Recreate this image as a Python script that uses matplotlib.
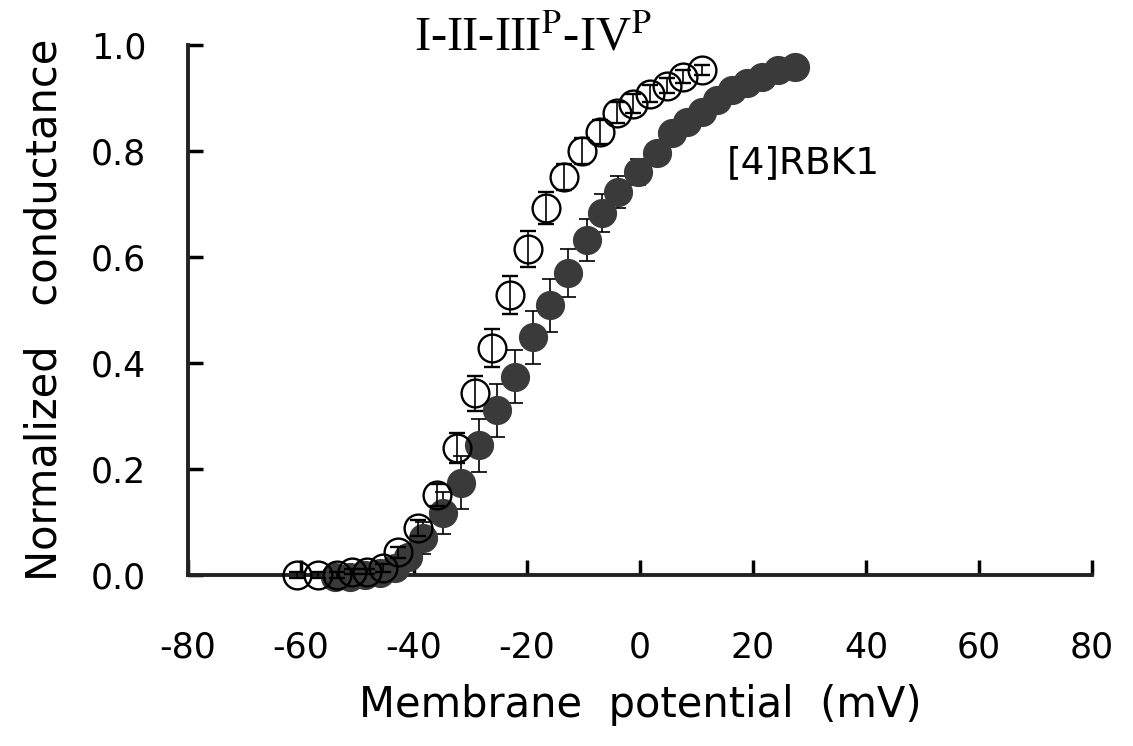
import numpy as np
import matplotlib
matplotlib.use('Agg')
import matplotlib.pyplot as plt

plt.rcParams['mathtext.fontset'] = 'stix'

# I-II-III^P-IV^P (open circles)
v_open = [-60.7, -57.0, -53.6, -51.0, -48.3, -45.5, -42.8, -39.3, -35.9, -32.4,
          -29.2, -26.2, -23.0, -19.8, -16.6, -13.5, -10.3, -7.1, -4.1, -1.2,
          1.8, 4.8, 7.6, 11.0]
g_open = [0.0, 0.0, 0.0, 0.006, 0.006, 0.013, 0.043, 0.089, 0.151, 0.240,
          0.343, 0.428, 0.528, 0.615, 0.692, 0.751, 0.800, 0.836, 0.872, 0.889,
          0.908, 0.923, 0.940, 0.953]
e_open = [0.005, 0.005, 0.005, 0.005, 0.005, 0.008, 0.01, 0.015, 0.02, 0.028,
          0.033, 0.036, 0.036, 0.034, 0.03, 0.025, 0.025, 0.022, 0.02, 0.018,
          0.016, 0.014, 0.012, 0.01]

# [4]RBK1 (filled circles)
v_fill = [-54.0, -51.3, -48.7, -46.0, -43.4, -41.1, -38.4, -34.9, -31.7, -28.5,
          -25.3, -22.1, -18.9, -15.9, -12.7, -9.4, -6.7, -3.9, -0.4, 3.0,
          5.7, 8.3, 11.0, 13.6, 16.3, 18.9, 21.6, 24.4, 27.4]
g_fill = [-0.004, -0.004, 0.0, 0.004, 0.013, 0.034, 0.070, 0.117, 0.174, 0.245,
          0.311, 0.374, 0.449, 0.509, 0.570, 0.632, 0.683, 0.723, 0.760, 0.796,
          0.834, 0.855, 0.874, 0.896, 0.915, 0.928, 0.940, 0.953, 0.958]
e_fill = [0.005, 0.005, 0.005, 0.01, 0.01, 0.02, 0.03, 0.04, 0.05, 0.05,
          0.05, 0.05, 0.05, 0.05, 0.045, 0.04, 0.035, 0.03, 0.025, 0.02,
          0.015, 0.01, 0.01, 0.01, 0.008, 0.008, 0.008, 0.008, 0.008]

xticks = [-80, -60, -40, -20, 0, 20, 40, 60, 80]
yticks = [0.0, 0.2, 0.4, 0.6, 0.8, 1.0]

fig = plt.figure(figsize=(11.33, 7.46), dpi=100)
ax = fig.add_axes([0.1659, 0.2292, 0.7979, 0.7105])

dark = '#3a3a3a'
ax.errorbar(v_fill, g_fill, yerr=e_fill, fmt='o', ms=20, mfc=dark, mec=dark,
            ecolor='black', elinewidth=1.2, capsize=6, capthick=1.2,
            clip_on=False, zorder=3)
ax.errorbar(v_open, g_open, yerr=e_open, fmt='o', ms=20, mfc='none', mec='black',
            mew=1.7, ecolor='black', elinewidth=1.2, capsize=6, capthick=1.2,
            clip_on=False, zorder=4)

ax.set_xlim(-80, 80)
ax.set_ylim(0, 1.0)
ax.set_xticks(xticks)
ax.set_xticklabels([str(t) for t in xticks])
ax.set_yticks(yticks)
ax.set_yticklabels([f'{t:.1f}' for t in yticks])

for side in ['top', 'right']:
    ax.spines[side].set_visible(False)
for side in ['left', 'bottom']:
    ax.spines[side].set_linewidth(2.8)
    ax.spines[side].set_color('#222222')

ax.tick_params(axis='x', direction='in', length=11, width=2.5, pad=40, labelsize=25)
ax.tick_params(axis='y', direction='in', length=11, width=2.5, pad=30, labelsize=25)

ax.set_xlabel('Membrane  potential  (mV)', fontsize=30, labelpad=14)
ax.set_ylabel('Normalized   conductance', fontsize=30, labelpad=18)

ax.text(-19, 1.013, r'I-II-III$^{\rm P}$-IV$^{\rm P}$', family='Liberation Serif',
        fontsize=35, ha='center', va='center')
ax.text(15.4, 0.777, '[4]RBK1', fontsize=27, ha='left', va='center')

plt.savefig('out.png', dpi=100)
